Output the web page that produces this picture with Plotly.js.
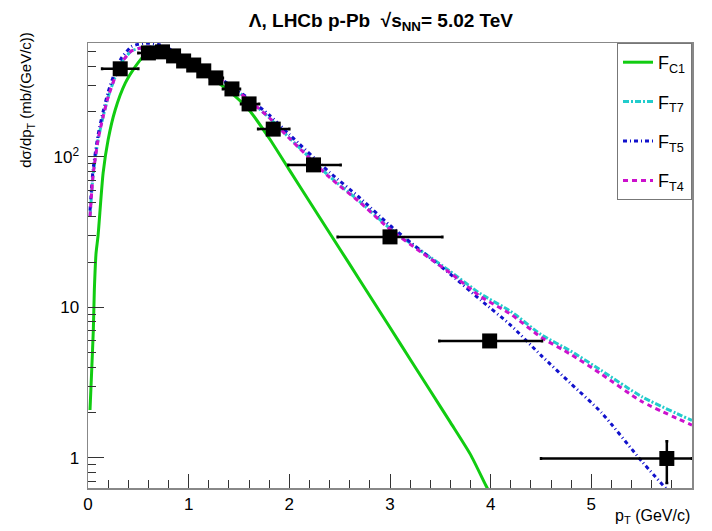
<!DOCTYPE html>
<html>
<head>
<meta charset="utf-8">
<script src="https://cdn.plot.ly/plotly-3.0.1.min.js"></script>
<style>body{margin:0;padding:0;background:#fff}#plot{width:712px;height:531px}</style>
</head>
<body>
<div id="plot"></div>
<script>
// ---- measured data (Lambda, LHCb p-Pb) ----
const dataX = [0.32, 0.60, 0.74, 0.85, 0.95, 1.05, 1.15, 1.27, 1.43, 1.60, 1.84, 2.24, 3.00, 3.99, 5.75];
const dataY = [385, 491, 499, 469, 434, 408, 373, 335, 283, 225, 153, 88.5, 29.4, 5.98, 0.99];
const xErrMinus = [0.18, 0.10, 0.05, 0.05, 0.05, 0.05, 0.05, 0.06, 0.09, 0.08, 0.15, 0.25, 0.52, 0.50, 1.25];
const xErrPlus  = [0.18, 0.10, 0.05, 0.05, 0.05, 0.05, 0.05, 0.07, 0.08, 0.10, 0.16, 0.27, 0.52, 0.52, 0.25];
const yErrMinus = [10, 10, 10, 10, 10, 8, 8, 7, 6, 5, 4, 3, 1.5, 0.4, 0.31];
const yErrPlus  = [10, 10, 10, 10, 10, 8, 8, 7, 6, 5, 4, 3, 1.5, 0.4, 0.30];

// ---- fit curves ----
const fc1X = [0.02, 0.037, 0.053, 0.063, 0.08, 0.10, 0.15, 0.20, 0.27, 0.37, 0.47, 0.55, 0.65, 0.75, 0.85, 1.0, 1.2, 1.4, 1.6, 1.8, 2.0, 2.2, 2.4, 2.6, 2.8, 3.0, 3.2, 3.4, 3.6, 3.8, 3.95, 4.0];
const fc1Y = [2.08, 3.85, 7.1, 13, 22.9, 30, 78, 130, 205, 309, 398, 464, 495, 500, 478, 425, 345, 275, 205, 133, 82, 50.5, 31.2, 19.3, 11.9, 7.35, 4.52, 2.79, 1.72, 1.05, 0.66, 0.57];

const ftX = [0.02, 0.05, 0.10, 0.15, 0.20, 0.27, 0.33, 0.43, 0.50, 0.60, 0.70, 0.85, 0.95, 1.05, 1.15, 1.27, 1.4, 1.6, 1.8, 2.0, 2.4, 2.7, 3.0, 3.3, 3.6, 3.9, 4.2, 4.5, 4.8, 5.1, 5.5, 6.0];
const ft7Y = [40, 75, 130, 185, 250, 340, 420, 505, 525, 538, 532, 497, 456, 417, 382, 342, 300, 238, 182, 134, 74, 50.5, 33.5, 24, 17.3, 12.3, 9.4, 6.6, 5.1, 3.8, 2.55, 1.77];
const ft4Y = [40, 75, 130, 185, 250, 340, 420, 505, 525, 538, 532, 497, 456, 417, 382, 342, 300, 238, 182, 133, 73, 50, 33, 23.5, 16.9, 11.8, 9.0, 6.34, 4.85, 3.6, 2.37, 1.65];
const ft5Y = [44, 82, 140, 200, 270, 370, 452, 540, 560, 570, 558, 507, 463, 422, 386, 346, 304, 243, 190, 141, 79, 53.5, 35, 24, 16.6, 11.2, 7.6, 4.8, 3.1, 2.0, 0.95, 0.4];

const yTickVals = [1, 10, 100];
const yTickText = ["1", "10", "10<sup>2</sup>"];
const xTickVals = [0, 1, 2, 3, 4, 5];

const traces = [
  {x: fc1X, y: fc1Y, mode: 'lines', name: 'F<sub>C1</sub>', legendgroup: 'a',
   line: {color: '#11cc11', width: 3, shape: 'spline', smoothing: 0.6}},
  {x: ftX, y: ft7Y, mode: 'lines', name: 'F<sub>T7</sub>', legendgroup: 'b',
   line: {color: '#22cccc', width: 3, dash: '6px,2px,2px,2px', shape: 'spline', smoothing: 0.6}},
  {x: ftX, y: ft5Y, mode: 'lines', name: 'F<sub>T5</sub>', legendgroup: 'c',
   line: {color: '#1111cc', width: 3, dash: '4px,3px,1px,3px', shape: 'spline', smoothing: 0.6}},
  {x: ftX, y: ft4Y, mode: 'lines', name: 'F<sub>T4</sub>', legendgroup: 'd',
   line: {color: '#cc11cc', width: 3, dash: '5px,4px', shape: 'spline', smoothing: 0.6}},
  {x: dataX, y: dataY, mode: 'markers', showlegend: false,
   marker: {symbol: 'square', size: 15, color: '#000'},
   error_x: {type: 'data', symmetric: false, array: xErrPlus, arrayminus: xErrMinus, color: '#000', thickness: 2.5, width: 1.5},
   error_y: {type: 'data', symmetric: false, array: yErrPlus, arrayminus: yErrMinus, color: '#000', thickness: 2.5, width: 1.5}}
];

const layout = {
  width: 712, height: 531,
  margin: {l: 88, r: 20, t: 43, b: 43, pad: 0},
  paper_bgcolor: '#fff', plot_bgcolor: '#fff',
  font: {family: 'Liberation Sans, Arial, sans-serif', size: 17, color: '#000'},
  title: {text: '<b>Λ, LHCb p-Pb  √s<sub>NN</sub>= 5.02 TeV</b>', x: 0.535, xanchor: 'center', y: 0.962, yanchor: 'middle',
          font: {family: 'Liberation Sans, Arial, sans-serif', size: 19, color: '#000'}},
  xaxis: {range: [0, 6], tickmode: 'array', tickvals: xTickVals, ticks: 'inside', ticklen: 14, tickwidth: 1, tickcolor: '#333',
          showline: true, linecolor: '#888', linewidth: 1.5, mirror: true, showgrid: false, zeroline: false,
          minor: {dtick: 0.2, ticks: 'inside', ticklen: 8, tickcolor: '#333', showgrid: false},
          tickfont: {size: 17}},
  yaxis: {type: 'log', range: [Math.log10(0.63), 2.757], tickmode: 'array', tickvals: yTickVals, ticktext: yTickText,
          ticks: 'inside', ticklen: 16, tickwidth: 1, tickcolor: '#333',
          showline: true, linecolor: '#888', linewidth: 1.5, mirror: true, showgrid: false, zeroline: false,
          minor: {dtick: 'D1', ticks: 'inside', ticklen: 8, tickcolor: '#333', showgrid: false},
          tickfont: {size: 17}, ticklabelstandoff: 4,
          title: {text: 'dσ/dp<sub>T</sub> (mb/(GeV/c))', font: {size: 15}}},
  legend: {x: (617 - 88) / 604, y: 1, xanchor: 'left', yanchor: 'top', bgcolor: '#fff', bordercolor: '#777', borderwidth: 1,
           font: {size: 18}, tracegroupgap: 13, itemwidth: 30},
  showlegend: true,
  annotations: [
    {xref: 'paper', yref: 'paper', x: 1, y: (488 - 516) / 445, xanchor: 'right', yanchor: 'middle', showarrow: false,
     text: 'p<sub>T</sub> (GeV/c)', font: {size: 16}}
  ]
};

Plotly.newPlot('plot', traces, layout, {displayModeBar: false, staticPlot: true}).then(function (gd) {
  // move the rotated y-axis title up towards the top-left, keeping its own single rotate transform
  const t = gd.querySelector('.ytitle');
  if (!t) return;
  const host = gd.getBoundingClientRect();
  const r = t.getBoundingClientRect();
  const cx = r.left + r.width / 2 - host.left;
  const cy = r.top + r.height / 2 - host.top;
  const dx = 27 - cx, dy = 100 - cy;
  const x0 = parseFloat(t.getAttribute('x')) || 0;
  const y0 = parseFloat(t.getAttribute('y')) || 0;
  const x1 = x0 + dx, y1 = y0 + dy;
  t.setAttribute('x', x1);
  t.setAttribute('y', y1);
  t.setAttribute('transform', 'rotate(-90,' + x1 + ',' + y1 + ')');
  t.querySelectorAll('tspan[x]').forEach(function (s) { s.setAttribute('x', x1); });
});
</script>
</body>
</html>
